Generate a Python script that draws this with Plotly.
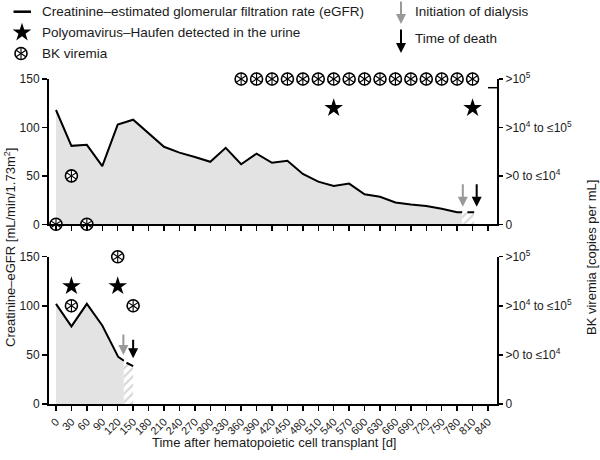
import plotly.graph_objects as go

# ---------------- data ----------------
# Top patient
top_days = [0, 30, 60, 90, 120, 150, 210, 240, 270, 300, 330, 360, 390, 420, 450,
            480, 510, 540, 570, 600, 630, 660, 690, 720, 750, 780, 790]
top_egfr = [118, 81, 82, 60, 103, 108, 80, 74, 69.5, 64.5, 79, 62, 73, 63.5, 65.5,
            52, 44, 39.5, 42, 31, 28.5, 22.5, 20.5, 19, 16, 12.5, 12.5]
top_dash_days = [800, 813]
top_dash_egfr = [12.5, 12.5]
top_star_days = [540, 810]
top_star_vals = [120, 120]
top_bk_days = [0, 30, 60, 360, 390, 420, 450, 480, 510, 540, 570, 600, 630, 660, 690, 720, 750, 780, 810]
top_bk_vals = [0, 50, 0, 150, 150, 150, 150, 150, 150, 150, 150, 150, 150, 150, 150, 150, 150, 150, 150]
top_dialysis = [791, 18]
top_death = [818, 18]

# Bottom patient
bot_days = [0, 30, 60, 90, 121, 132]
bot_egfr = [102, 79, 102, 80, 48, 44]
bot_dash_days = [137, 150]
bot_dash_egfr = [42, 38.5]
bot_star_days = [30, 120]
bot_star_vals = [120, 120]
bot_bk_days = [30, 120, 150]
bot_bk_vals = [100, 150, 100]
bot_dialysis = [131, 50]
bot_death = [150, 46.5]

x_ticks = list(range(0, 841, 30))
left_ticks = [0, 50, 100, 150]
right_ticktext = ["0", ">0 to ≤10<sup>4</sup>", ">10<sup>4</sup> to ≤10<sup>5</sup>", ">10<sup>5</sup>"]

# ---------------- style ----------------
FONT = "Liberation Sans, Arial, sans-serif"
TXT = "#1a1a1a"
W, H = 600, 460
def px(x):
    return x / W
def py(y):
    return 1 - y / H

fig = go.Figure()

def add_bk(xa, ya, bd, bv, size=12):
    fig.add_trace(go.Scatter(x=bd, y=bv, mode="markers",
                             marker=dict(symbol="circle", size=size, color="white",
                                         line=dict(color="black", width=1.6)),
                             cliponaxis=False, xaxis=xa, yaxis=ya, showlegend=False))
    for sym in ["y-up-open", "y-down-open"]:
        fig.add_trace(go.Scatter(x=bd, y=bv, mode="markers",
                                 marker=dict(symbol=sym, size=size - 4, color="black",
                                             line=dict(color="black", width=1.1)),
                                 cliponaxis=False, xaxis=xa, yaxis=ya, showlegend=False))

def add_panel(xa, ya, yr, days, egfr, dash_d, dash_v, sd, sv, bd, bv):
    fig.add_trace(go.Scatter(x=days, y=egfr, mode="lines", fill="tozeroy",
                             fillcolor="#e3e3e3", line=dict(color="black", width=2),
                             xaxis=xa, yaxis=ya, showlegend=False, hoverinfo="skip"))
    fig.add_trace(go.Scatter(x=[days[-1]] + dash_d[1:], y=[egfr[-1]] + dash_v[1:], mode="lines",
                             fill="tozeroy", fillcolor="rgba(0,0,0,0)",
                             fillpattern=dict(shape="/", fgcolor="#d6d6d6", bgcolor="white",
                                              size=6, solidity=0.35),
                             line=dict(width=0), xaxis=xa, yaxis=ya, showlegend=False,
                             hoverinfo="skip"))
    fig.add_trace(go.Scatter(x=dash_d, y=dash_v, mode="lines",
                             line=dict(color="black", width=2),
                             xaxis=xa, yaxis=ya, showlegend=False, hoverinfo="skip"))
    fig.add_trace(go.Scatter(x=sd, y=sv, mode="markers",
                             marker=dict(symbol="star", size=14, color="black"),
                             cliponaxis=False, xaxis=xa, yaxis=ya, showlegend=False))
    # BK viremia plotted against the right-hand (categorical level) axis
    add_bk(xa, yr, bd, bv)

add_panel("x", "y", "y2", top_days, top_egfr, top_dash_days, top_dash_egfr,
          top_star_days, top_star_vals, top_bk_days, top_bk_vals)
add_panel("x2", "y3", "y4", bot_days, bot_egfr, bot_dash_days, bot_dash_egfr,
          bot_star_days, bot_star_vals, bot_bk_days, bot_bk_vals)

# legend glyphs on a hidden pixel-space axis
fig.add_trace(go.Scatter(x=[13.5, 31], y=[11.7, 11.7], mode="lines",
                         line=dict(color="black", width=2.5),
                         xaxis="x3", yaxis="y5", showlegend=False, hoverinfo="skip"))
fig.add_trace(go.Scatter(x=[22], y=[32.5], mode="markers",
                         marker=dict(symbol="star", size=14, color="black"),
                         xaxis="x3", yaxis="y5", showlegend=False, hoverinfo="skip"))
add_bk("x3", "y5", [21], [53.5])

XDOM = [px(49), px(497)]
XR = [-13.6, 857.5]
TOPDOM = [py(224.3), py(79)]
BOTDOM = [py(404), py(256.7)]

common_x = dict(range=XR, domain=XDOM, tickvals=x_ticks, ticks="outside", ticklen=5,
                tickwidth=1.5, tickcolor="black", showline=True, linewidth=2,
                linecolor="black", showgrid=False, zeroline=False, automargin=False,
                fixedrange=True)
common_yl = dict(range=[0, 150], tickvals=left_ticks, ticks="outside", ticklen=5,
                 tickwidth=1.5, tickcolor="black", showline=True, linewidth=2,
                 linecolor="black", showgrid=False, zeroline=False, automargin=False,
                 tickfont=dict(size=12, color=TXT, family=FONT), side="left",
                 fixedrange=True)
common_yr = dict(range=[0, 150], tickvals=left_ticks, ticktext=right_ticktext,
                 ticks="outside", ticklen=4, tickwidth=1.5, tickcolor="black",
                 showline=True, linewidth=2, linecolor="black", showgrid=False,
                 zeroline=False, automargin=False, side="right", fixedrange=True,
                 tickfont=dict(size=12, color=TXT, family=FONT))

fig.update_layout(
    template="none",
    width=W, height=H,
    margin=dict(l=0, r=0, t=0, b=0, pad=0),
    paper_bgcolor="white", plot_bgcolor="rgba(0,0,0,0)",
    font=dict(family=FONT, size=12, color=TXT),
    showlegend=False,
    hovermode=False,
    xaxis=dict(anchor="y", showticklabels=False, **common_x),
    xaxis2=dict(anchor="y3", matches="x", showticklabels=True, tickangle=-45,
                tickfont=dict(size=11, color=TXT, family=FONT), **common_x),
    yaxis=dict(anchor="x", domain=TOPDOM, **common_yl),
    yaxis2=dict(anchor="x", overlaying="y", domain=TOPDOM, **common_yr),
    yaxis3=dict(anchor="x2", domain=BOTDOM, **common_yl),
    yaxis4=dict(anchor="x2", overlaying="y3", domain=BOTDOM, **common_yr),
    xaxis3=dict(domain=[0, 1], range=[0, W], visible=False, fixedrange=True),
    yaxis5=dict(domain=[0, 1], range=[H, 0], visible=False, fixedrange=True, anchor="x3"),
)

ann = []
# in-plot arrows
for (d, v), col, xr, yr, L in [(top_dialysis, "#999999", "x", "y", 24),
                               (top_death, "black", "x", "y", 24),
                               (bot_dialysis, "#999999", "x2", "y3", 22),
                               (bot_death, "black", "x2", "y3", 20)]:
    ann.append(dict(x=d, y=v, xref=xr, yref=yr, text="", showarrow=True,
                    ax=0, ay=-L, arrowhead=2, arrowsize=1, arrowwidth=2, arrowcolor=col))
# legend arrows
ann.append(dict(x=px(401), y=py(24), xref="paper", yref="paper", text="", showarrow=True,
                ax=0, ay=-24, arrowhead=2, arrowsize=1, arrowwidth=2, arrowcolor="#999999"))
ann.append(dict(x=px(401), y=py(53), xref="paper", yref="paper", text="", showarrow=True,
                ax=0, ay=-25, arrowhead=2, arrowsize=1, arrowwidth=2, arrowcolor="black"))
# legend texts
for txt, x, y in [("Creatinine–estimated glomerular filtration rate (eGFR)", 40, 11.7),
                  ("Polyomavirus–Haufen detected in the urine", 40, 32.5),
                  ("BK viremia", 40, 53.5),
                  ("Initiation of dialysis", 413, 11.7),
                  ("Time of death", 413, 39)]:
    ann.append(dict(x=px(x), y=py(y), xref="paper", yref="paper", text=txt,
                    showarrow=False, xanchor="left", yanchor="middle",
                    font=dict(size=13.5, color=TXT, family=FONT)))
# axis titles
ann.append(dict(x=px(10), y=py(248), xref="paper", yref="paper",
                text="Creatinine–eGFR [mL/min/1.73m<sup>2</sup>]", textangle=-90,
                showarrow=False, xanchor="center", yanchor="middle",
                font=dict(size=13, color=TXT, family=FONT)))
ann.append(dict(x=px(591), y=py(258), xref="paper", yref="paper",
                text="BK viremia [copies per mL]", textangle=-90,
                showarrow=False, xanchor="center", yanchor="middle",
                font=dict(size=13, color=TXT, family=FONT)))
ann.append(dict(x=px(274), y=py(442), xref="paper", yref="paper",
                text="Time after hematopoietic cell transplant [d]",
                showarrow=False, xanchor="center", yanchor="middle",
                font=dict(size=13, color=TXT, family=FONT)))
fig.update_layout(annotations=ann)

# small inward tick on the upper right axis
fig.add_shape(type="line", xref="paper", yref="paper", x0=px(488), x1=px(497),
              y0=py(87.7), y1=py(87.7), line=dict(color="black", width=1.5))

fig.write_html("out.html", config={"displayModeBar": False, "staticPlot": True},
               post_script="document.body.style.margin='0';document.body.style.overflow='hidden';")
